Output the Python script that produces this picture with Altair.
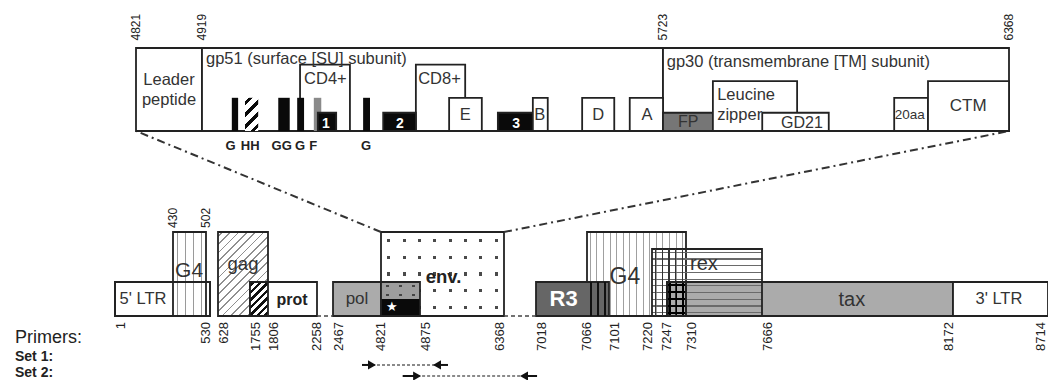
import altair as alt
import numpy as np
import pandas as pd

FONT = "Liberation Sans"
INK = "#222222"
TXT = "#333333"
CLEAR = "rgba(255,255,255,0)"
MARGIN = 8

# ---------- schematic (not-to-scale) layout: genome nt -> page pixel ----------
LOW_NT = [1, 430, 502, 530, 628, 1755, 1806, 2258, 2467, 4821, 4875, 6368,
          7018, 7066, 7101, 7220, 7247, 7310, 7666, 8172, 8714]
LOW_PX = [115, 173, 206, 210, 218, 250, 268, 317, 333, 381, 420, 504,
          536, 587, 609, 652, 667, 686, 762, 953, 1048]
UP_NT = [4821, 4919, 5723, 6368]
UP_PX = [136, 202, 663, 1009]
LOW_LEVEL_PX = [316, 282]   # track level 0 and 1
UP_LEVEL_PX = [131, 48]

# ---------- lower genome map data ----------
# coordinate labels under the map, grouped by which side of the tick they sit on
ticks_bottom_left = [530, 6368, 7220, 8172]
ticks_bottom_edge = [8714]
ticks_bottom_mid = [2258, 4821, 7066, 7247]
ticks_bottom_right = [1, 628, 1755, 1806, 2467, 4875, 7018, 7101, 7310, 7666]
ticks_top = [430, 502]

ltr5 = [1, 530, 1.0]
g4_a = [430, 502, 2.47]
gag = [628, 1806, 2.47]
prot = [1755, 2258, 1.0]
gag_prot = [1755, 1806, 1.0]
pol = [2467, 4875, 1.0]
env = [4821, 6368, 2.47]
pol_env = [4821, 4875, 1.0]
r3 = [7018, 7101, 1.0]
r3_g4 = [7066, 7101, 1.0]
g4_b = [7066, 7310, 2.47]
rex = [7220, 7666, 1.97]
rex_g4 = [7220, 7310, 1.97]
tax = [7247, 8172, 1.0]
tax_rex_g4 = [7247, 7310, 1.0]
ltr3 = [8172, 8714, 1.0]
gap_start = [2258, 6368]
gap_end = [2467, 7018]

low_text = ["5' LTR", "G4", "gag", "pol", "G4", "rex", "tax", "3' LTR"]
low_text_x = [208, 465, 1508, 3644, 7145, 7394, 7904, 8434]
low_text_y = [0.5, 1.32, 1.53, 0.5, 1.15, 1.53, 0.47, 0.5]
low_text_size = [16.5, 21, 18.5, 17, 23, 20, 20, 16.5]

low_bold = ["prot", "env.", "R3"]
low_bold_x = [2027, 5293, 7044]
low_bold_y = [0.47, 1.15, 0.5]
low_bold_size = [16, 18.5, 22]
low_bold_color = [INK, INK, "white"]

star_x = [4836]
star_y = [0.26]

# primers
primer_set = ["Set 1:", "Set 2:"]
primer_start = [3889, 4851]
primer_fwd = [4380, 4871]
primer_rev = [5177, 6774]
primer_end = [5373, 7019]
primer_row = [-1.44, -1.765]
primer_label_row = [-1.324, -1.794]
primer_title_row = -0.79

# ---------- upper (env) detail data ----------
up_ticks = [4821, 4919, 5723, 6368]
env_region_start = [4821, 4919, 5723]
env_region_end = [4919, 5723, 6368]
cd_start = [5090, 5292]
cd_end = [5177, 5378]
epi_start = [5350, 5496, 5582, 5665, 6154]   # E, B, D, A, 20aa
epi_end = [5407, 5522, 5638, 5723, 6217]
tall_start = [5816, 6217]                     # leucine zipper, CTM
tall_end = [5973, 6368]
glyco_start = [4971, 5052, 5085, 5200]        # G, GG, G, G
glyco_end = [4982, 5072, 5097, 5212]
hh_bar = [4994, 5017]
f_bar = [5114, 5127]
num_start = [5121, 5235, 5435]                # 1, 2, 3
num_end = [5153, 5292, 5496]
fp = [5723, 5816]
gd21 = [5908, 6032]

up_left_text = ["gp51 (surface [SU] subunit)", "gp30 (transmembrane [TM] subunit)",
                "CD4+", "CD8+", "Leucine", "zipper"]
up_left_x = [4926, 5730, 5097, 5296, 5824, 5824]
up_left_y = [0.867, 0.83, 0.63, 0.63, 0.43, 0.19]

up_center_text = ["Leader", "peptide", "E", "B", "D", "A", "FP", "GD21", "20aa", "CTM"]
up_center_x = [4870, 4870, 5378, 5508, 5610, 5695, 5770, 5982, 6183, 6292]
up_center_y = [0.614, 0.373, 0.19, 0.19, 0.19, 0.19, 0.105, 0.095, 0.19, 0.30]
up_center_size = [16.5, 16.5, 16.5, 16.5, 16.5, 16.5, 16, 16, 13.5, 17]

num_text = ["1", "2", "3"]
num_x = [5135, 5264, 5467]
letters = ["G", "HH", "GG", "G", "F", "G"]
letters_x = [4969, 5003, 5058, 5090, 5113, 5205]


# ---------- helpers ----------
def px_low(nt):
    return float(np.interp(nt, LOW_NT, LOW_PX))


def lvl_h_low(h):
    return h * (LOW_LEVEL_PX[0] - LOW_LEVEL_PX[1])


def stripe_stops(bg, fg, n, frac):
    stops = [alt.GradientStop(color=bg, offset=0)]
    for i in range(n):
        a = (i + 0.5 - frac / 2) / n
        b = (i + 0.5 + frac / 2) / n
        stops += [alt.GradientStop(color=bg, offset=a), alt.GradientStop(color=fg, offset=a),
                  alt.GradientStop(color=fg, offset=b), alt.GradientStop(color=bg, offset=b)]
    stops.append(alt.GradientStop(color=bg, offset=1))
    return stops


def vstripes(bg, fg, n, frac):
    return alt.LinearGradient(gradient="linear", stops=stripe_stops(bg, fg, n, frac),
                              x1=0, y1=0, x2=1, y2=0)


def hstripes(bg, fg, n, frac):
    return alt.LinearGradient(gradient="linear", stops=stripe_stops(bg, fg, n, frac),
                              x1=0, y1=0, x2=0, y2=1)


def diag(bg, fg, w, h, spacing, lw):
    t = (1 / h + 1 / w) / (1 / h ** 2 + 1 / w ** 2)
    n = max(1, int(round((w + h) / np.sqrt(2) / spacing)))
    return alt.LinearGradient(gradient="linear", stops=stripe_stops(bg, fg, n, lw / spacing),
                              x1=0, y1=0, x2=float(t / h), y2=float(t / w))


X_LOW = alt.Scale(domain=LOW_NT, range=[p - MARGIN for p in LOW_PX], nice=False, zero=False)
Y_LOW = alt.Scale(domain=[0, 1], range=[p - MARGIN for p in LOW_LEVEL_PX], nice=False, zero=False)
X_UP = alt.Scale(domain=UP_NT, range=[p - MARGIN for p in UP_PX], nice=False, zero=False)
Y_UP = alt.Scale(domain=[0, 1], range=[p - MARGIN for p in UP_LEVEL_PX], nice=False, zero=False)


def rdf(starts, ends, top, bottom=0.0):
    n = len(starts)
    tops = top if isinstance(top, list) else [top] * n
    return pd.DataFrame({"x": starts, "x2": ends, "y": [bottom] * n, "y2": tops})


def rect(df, xs, ys, **mk):
    return alt.Chart(df).mark_rect(**mk).encode(
        x=alt.X("x:Q", scale=xs, axis=None), x2="x2:Q",
        y=alt.Y("y:Q", scale=ys, axis=None), y2="y2:Q")


def box(span, xs, ys, bottom=0.0, top=None, **mk):
    t = span[2] if top is None else top
    return rect(rdf([span[0]], [span[1]], t, bottom), xs, ys, **mk)


def texts(txt, xv, yv, size, color, xs, ys, **mk):
    df = pd.DataFrame({"x": xv, "y": yv, "text": txt, "size": size, "color": color})
    return alt.Chart(df).mark_text(font=FONT, **mk).encode(
        x=alt.X("x:Q", scale=xs, axis=None), y=alt.Y("y:Q", scale=ys, axis=None),
        text="text:N", size=alt.Size("size:Q", scale=None),
        color=alt.Color("color:N", scale=None))


def tick_labels(vals, yv, size, xs, ys, **mk):
    return texts([str(v) for v in vals], vals, [yv] * len(vals), [size] * len(vals),
                 [INK] * len(vals), xs, ys, angle=270, **mk)


SW = 1.8
OUT = dict(stroke=INK, strokeWidth=SW)

# ---------- lower layers ----------
L = []
L.append(box(ltr5, X_LOW, Y_LOW, fill="white", **OUT))
L.append(box(g4_a, X_LOW, Y_LOW, fill=vstripes("white", "#9a9a9a", 4, 0.14), **OUT))
L.append(box(ltr5, X_LOW, Y_LOW, fill="transparent", **OUT))
w, h = px_low(gag[1]) - px_low(gag[0]), lvl_h_low(gag[2])
L.append(box(gag, X_LOW, Y_LOW, fill=diag("white", "#8f8f8f", w, h, 6, 1.3), **OUT))
L.append(box(prot, X_LOW, Y_LOW, fill="white", **OUT))
w, h = px_low(gag_prot[1]) - px_low(gag_prot[0]), lvl_h_low(gag_prot[2])
L.append(box(gag_prot, X_LOW, Y_LOW, fill=diag("white", "#111111", w, h, 5.2, 2.4), **OUT))
L.append(box(pol, X_LOW, Y_LOW, fill="#ababab", **OUT))
# env: dotted
L.append(box(env, X_LOW, Y_LOW, fill=vstripes("white", "#4a4a4a", 8, 0.2)))
L.append(box(env, X_LOW, Y_LOW, fill=hstripes("white", CLEAR, 5, 0.19), **OUT))
# pol/env overlap
L.append(box(pol_env, X_LOW, Y_LOW, bottom=0.5, fill=vstripes("#9d9d9d", "#444444", 3, 0.22)))
L.append(box(pol_env, X_LOW, Y_LOW, bottom=0.5, fill=hstripes("#9d9d9d", CLEAR, 2, 0.27)))
L.append(box(pol_env, X_LOW, Y_LOW, top=0.5, fill="#0a0a0a"))
L.append(box(pol_env, X_LOW, Y_LOW, fill="transparent", **OUT))
L.append(alt.Chart(pd.DataFrame({"x": star_x, "y": star_y, "t": ["\u2605"]})).mark_text(
    font="DejaVu Sans", fontSize=13, color="white", align="center", baseline="middle").encode(
    x=alt.X("x:Q", scale=X_LOW, axis=None), y=alt.Y("y:Q", scale=Y_LOW, axis=None), text="t:N"))
# tax / G4 / rex block
L.append(box(tax, X_LOW, Y_LOW, fill="#ababab"))
L.append(box(g4_b, X_LOW, Y_LOW, fill=vstripes(CLEAR, "#a0a0a0", 15, 0.16), **OUT))
L.append(box(rex, X_LOW, Y_LOW, fill=hstripes(CLEAR, "#6a6a6a", 10, 0.17), **OUT))
L.append(box(rex_g4, X_LOW, Y_LOW, fill=vstripes(CLEAR, "#333333", 5, 0.2)))
L.append(box(tax_rex_g4, X_LOW, Y_LOW, fill=vstripes(CLEAR, "#000000", 3, 0.3)))
L.append(box(tax_rex_g4, X_LOW, Y_LOW, fill=hstripes(CLEAR, "#000000", 5, 0.3), **OUT))
L.append(box(tax, X_LOW, Y_LOW, fill="transparent", **OUT))
L.append(box(ltr3, X_LOW, Y_LOW, fill="white", **OUT))
L.append(box(r3, X_LOW, Y_LOW, fill="#666666", **OUT))
L.append(box(r3_g4, X_LOW, Y_LOW, fill=vstripes(CLEAR, "#111111", 3, 0.3)))
# dashed gaps
L.append(alt.Chart(pd.DataFrame({"x": gap_start, "x2": gap_end, "y": [0, 0]})).mark_rule(
    color="#444444", strokeWidth=1.6, strokeDash=[4, 3]).encode(
    x=alt.X("x:Q", scale=X_LOW, axis=None), x2="x2:Q", y=alt.Y("y:Q", scale=Y_LOW, axis=None)))

# connectors (upper panel corners expressed in lower-track coordinates)
up_corner_px = [float(np.interp(v, UP_NT, UP_PX)) for v in (env[0], env[1])]
up_bottom_px = UP_LEVEL_PX[0]
conn_x2 = [float(np.interp(p, LOW_PX, LOW_NT)) for p in up_corner_px]
conn_y2 = (LOW_LEVEL_PX[0] - up_bottom_px) / (LOW_LEVEL_PX[0] - LOW_LEVEL_PX[1])
conn = pd.DataFrame({"x": [env[0], env[1]], "y": [env[2], env[2]], "x2": conn_x2,
                     "y2": [conn_y2, conn_y2]})
L.append(alt.Chart(conn).mark_rule(color="#333333", strokeWidth=2, strokeDash=[8, 4, 2, 4]).encode(
    x=alt.X("x:Q", scale=X_LOW, axis=None), x2="x2:Q",
    y=alt.Y("y:Q", scale=Y_LOW, axis=None), y2="y2:Q"))

# texts
L.append(texts(low_text, low_text_x, low_text_y, low_text_size, [TXT] * len(low_text),
               X_LOW, Y_LOW, align="center", baseline="middle"))
L.append(texts(low_bold, low_bold_x, low_bold_y, low_bold_size, low_bold_color,
               X_LOW, Y_LOW, align="center", baseline="middle", fontWeight="bold"))
L.append(tick_labels(ticks_bottom_left, -0.18, 13, X_LOW, Y_LOW, align="right", baseline="alphabetic"))
L.append(tick_labels(ticks_bottom_edge, -0.18, 13, X_LOW, Y_LOW, align="right", baseline="bottom"))
L.append(tick_labels(ticks_bottom_mid, -0.18, 13, X_LOW, Y_LOW, align="right", baseline="middle"))
L.append(tick_labels(ticks_bottom_right, -0.18, 13, X_LOW, Y_LOW, align="right", baseline="top"))
L.append(tick_labels(ticks_top, 2.59, 12, X_LOW, Y_LOW, align="left", baseline="middle"))

# primers
pr = pd.DataFrame({"set": primer_set, "start": primer_start, "fwd": primer_fwd,
                   "rev": primer_rev, "end": primer_end, "row": primer_row,
                   "label_row": primer_label_row})
px_enc = dict(y=alt.Y("row:Q", scale=Y_LOW, axis=None))
L.append(alt.Chart(pr).mark_rule(color="#8a8a8a", strokeWidth=2, strokeDash=[3, 2]).encode(
    x=alt.X("fwd:Q", scale=X_LOW, axis=None), x2="rev:Q", **px_enc))
L.append(alt.Chart(pr).mark_rule(color="#111111", strokeWidth=2).encode(
    x=alt.X("start:Q", scale=X_LOW, axis=None), x2="fwd:Q", **px_enc))
L.append(alt.Chart(pr).mark_rule(color="#111111", strokeWidth=2).encode(
    x=alt.X("rev:Q", scale=X_LOW, axis=None), x2="end:Q", **px_enc))
L.append(alt.Chart(pr).mark_point(shape="triangle-right", filled=True, color="#111111",
                                  opacity=1, size=85).encode(
    x=alt.X("fwd:Q", scale=X_LOW, axis=None), **px_enc))
L.append(alt.Chart(pr).mark_point(shape="triangle-left", filled=True, color="#111111",
                                  opacity=1, size=85).encode(
    x=alt.X("rev:Q", scale=X_LOW, axis=None), **px_enc))
L.append(alt.Chart(pd.DataFrame({"text": ["Primers:"], "y": [primer_title_row]})).mark_text(
    font=FONT, fontSize=18, align="left", baseline="alphabetic", color=INK).encode(
    x=alt.value(7), y=alt.Y("y:Q", scale=Y_LOW, axis=None), text="text:N"))
L.append(alt.Chart(pr).mark_text(font=FONT, fontSize=14, fontWeight="bold", align="left",
                                 baseline="alphabetic", color=INK).encode(
    x=alt.value(7), y=alt.Y("label_row:Q", scale=Y_LOW, axis=None), text="set:N"))

lower = alt.layer(*L)

# ---------- upper layers ----------
U = []
U.append(rect(rdf(env_region_start, env_region_end, 1.0), X_UP, Y_UP, fill="white", **OUT))
U.append(rect(rdf(cd_start, cd_end, 0.8), X_UP, Y_UP, fill="white", **OUT))
U.append(rect(rdf(glyco_start, glyco_end, 0.4), X_UP, Y_UP, fill="#0a0a0a"))
hw = float(np.interp(hh_bar[1], UP_NT, UP_PX) - np.interp(hh_bar[0], UP_NT, UP_PX))
hh = 0.4 * (UP_LEVEL_PX[0] - UP_LEVEL_PX[1])
U.append(rect(rdf([hh_bar[0]], [hh_bar[1]], 0.4), X_UP, Y_UP,
              fill=diag("white", "#0a0a0a", hw, hh, 8, 3.2)))
U.append(rect(rdf([f_bar[0]], [f_bar[1]], 0.4), X_UP, Y_UP, fill="#8a8a8a"))
U.append(rect(rdf(num_start, num_end, 0.22), X_UP, Y_UP, fill="#0a0a0a", **OUT))
U.append(rect(rdf(epi_start, epi_end, 0.4), X_UP, Y_UP, fill="white", **OUT))
U.append(rect(rdf([fp[0]], [fp[1]], 0.22), X_UP, Y_UP, fill="#767676", **OUT))
U.append(rect(rdf(tall_start, tall_end, 0.6), X_UP, Y_UP, fill="white", **OUT))
U.append(rect(rdf([gd21[0]], [gd21[1]], 0.22), X_UP, Y_UP, fill="white", **OUT))

U.append(texts(up_left_text, up_left_x, up_left_y, [16.5] * len(up_left_text),
               [TXT] * len(up_left_text), X_UP, Y_UP, align="left", baseline="middle"))
U.append(texts(up_center_text, up_center_x, up_center_y, up_center_size,
               [TXT] * len(up_center_text), X_UP, Y_UP, align="center", baseline="middle"))
U.append(texts(num_text, num_x, [0.08] * 3, [14] * 3, ["white"] * 3, X_UP, Y_UP,
               align="center", baseline="middle", fontWeight="bold"))
U.append(texts(letters, letters_x, [-0.18] * len(letters), [13] * len(letters),
               [INK] * len(letters), X_UP, Y_UP, align="center", baseline="middle",
               fontWeight="bold"))
U.append(tick_labels(up_ticks, 1.09, 12, X_UP, Y_UP, align="left", baseline="middle"))

upper = alt.layer(*U)

chart = alt.layer(lower, upper).resolve_scale(x="independent", y="independent").properties(
    width=1040, height=372, padding=0, background="white",
    autosize=alt.AutoSizeParams(type="none")
).configure_view(stroke=None)

chart.save("out.html", embed_options={"renderer": "svg", "actions": False})
